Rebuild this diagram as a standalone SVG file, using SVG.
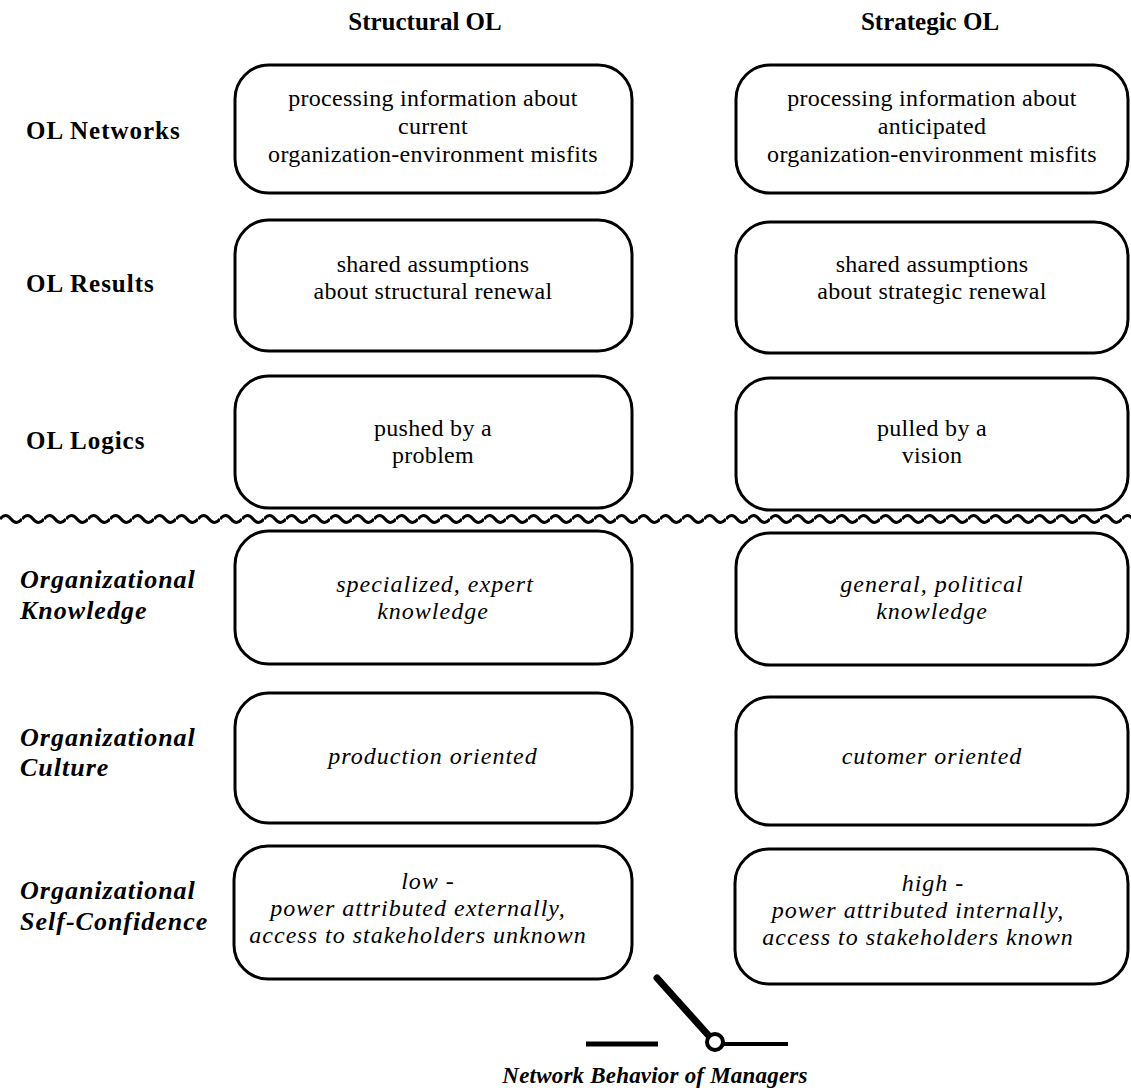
<svg xmlns="http://www.w3.org/2000/svg" width="1131" height="1092" viewBox="0 0 1131 1092">
<defs>
<style>
text{font-family:"Liberation Serif","Times New Roman",serif;fill:#000;text-anchor:middle}
.hd{font-size:25px;font-weight:bold}
.lb{font-size:25px;font-weight:bold;text-anchor:start;letter-spacing:1px}
.lbi{font-size:26px;font-weight:bold;font-style:italic;text-anchor:start;letter-spacing:1px}
.bx{fill:#fff;stroke:#000;stroke-width:3}
.t{font-size:24px;letter-spacing:0.3px}
.ti{font-size:24px;font-style:italic;letter-spacing:1px}
.cap{font-size:23px;font-weight:bold;font-style:italic;letter-spacing:0.2px}
</style>
<pattern id="wave" x="0" y="512" width="22" height="14" patternUnits="userSpaceOnUse">
<path d="M0 7 Q5.5 0 11 7 T22 7" fill="none" stroke="#000" stroke-width="3"/>
</pattern>
</defs>
<rect width="1131" height="1092" fill="#fff"/>

<g id="headers">
<text class="hd" x="425" y="30">Structural OL</text>
<text class="hd" x="930" y="30">Strategic OL</text>
</g>

<g id="row-labels">
<text class="lb" x="26" y="139">OL Networks</text>
<text class="lb" x="26" y="292">OL Results</text>
<text class="lb" x="26" y="449">OL Logics</text>
<text class="lbi" x="20" y="588">Organizational</text>
<text class="lbi" x="20" y="619">Knowledge</text>
<text class="lbi" x="20" y="746">Organizational</text>
<text class="lbi" x="20" y="776">Culture</text>
<text class="lbi" x="20" y="899">Organizational</text>
<text class="lbi" x="20" y="930">Self-Confidence</text>
</g>

<g id="s-networks"><rect class="bx" x="235" y="65" width="397" height="128" rx="34"/>
<text class="t" x="433" y="106">processing information about</text>
<text class="t" x="433" y="134">current</text>
<text class="t" x="433" y="162">organization-environment misfits</text></g>
<g id="t-networks"><rect class="bx" x="736" y="65" width="392" height="128" rx="34"/>
<text class="t" x="932" y="106">processing information about</text>
<text class="t" x="932" y="134">anticipated</text>
<text class="t" x="932" y="162">organization-environment misfits</text></g>

<g id="s-results"><rect class="bx" x="235" y="220" width="397" height="131" rx="34"/>
<text class="t" x="433" y="272">shared assumptions</text>
<text class="t" x="433" y="299">about structural renewal</text></g>
<g id="t-results"><rect class="bx" x="736" y="222" width="392" height="131" rx="34"/>
<text class="t" x="932" y="272">shared assumptions</text>
<text class="t" x="932" y="299">about strategic renewal</text></g>

<g id="s-logics"><rect class="bx" x="235" y="376" width="397" height="132" rx="34"/>
<text class="t" x="433" y="436">pushed by a</text>
<text class="t" x="433" y="463">problem</text></g>
<g id="t-logics"><rect class="bx" x="736" y="378" width="392" height="132" rx="34"/>
<text class="t" x="932" y="436">pulled by a</text>
<text class="t" x="932" y="463">vision</text></g>

<g id="separator"><rect x="0" y="512" width="1131" height="14" fill="url(#wave)"/></g>

<g id="s-knowledge"><rect class="bx" x="235" y="531" width="397" height="133" rx="34"/>
<text class="ti" x="435" y="592">specialized, expert</text>
<text class="ti" x="433" y="619">knowledge</text></g>
<g id="t-knowledge"><rect class="bx" x="736" y="533" width="392" height="132" rx="34"/>
<text class="ti" x="932" y="592">general, political</text>
<text class="ti" x="932" y="619">knowledge</text></g>

<g id="s-culture"><rect class="bx" x="235" y="693" width="397" height="130" rx="34"/>
<text class="ti" x="433" y="764">production oriented</text></g>
<g id="t-culture"><rect class="bx" x="736" y="697" width="392" height="128" rx="34"/>
<text class="ti" x="932" y="764">cutomer oriented</text></g>

<g id="s-confidence"><rect class="bx" x="234" y="846" width="398" height="133" rx="34"/>
<text class="ti" x="428" y="889">low -</text>
<text class="ti" x="418" y="916">power attributed externally,</text>
<text class="ti" x="418" y="943">access to stakeholders unknown</text></g>
<g id="t-confidence"><rect class="bx" x="735" y="849" width="393" height="135" rx="34"/>
<text class="ti" x="933" y="891">high -</text>
<text class="ti" x="918" y="918">power attributed internally,</text>
<text class="ti" x="918" y="945">access to stakeholders known</text></g>

<g id="connectors">
<g id="switch" stroke="#000" fill="none">
<line x1="657" y1="978" x2="709" y2="1036" stroke-width="7" stroke-linecap="round"/>
<line x1="586" y1="1044" x2="658" y2="1044" stroke-width="5"/>
<line x1="723" y1="1044" x2="788" y2="1044" stroke-width="4"/>
<circle cx="715" cy="1042" r="8" fill="#fff" stroke-width="4"/>
</g>
</g>
<g id="caption"><text class="cap" x="655" y="1083">Network Behavior of Managers</text></g>
</svg>
